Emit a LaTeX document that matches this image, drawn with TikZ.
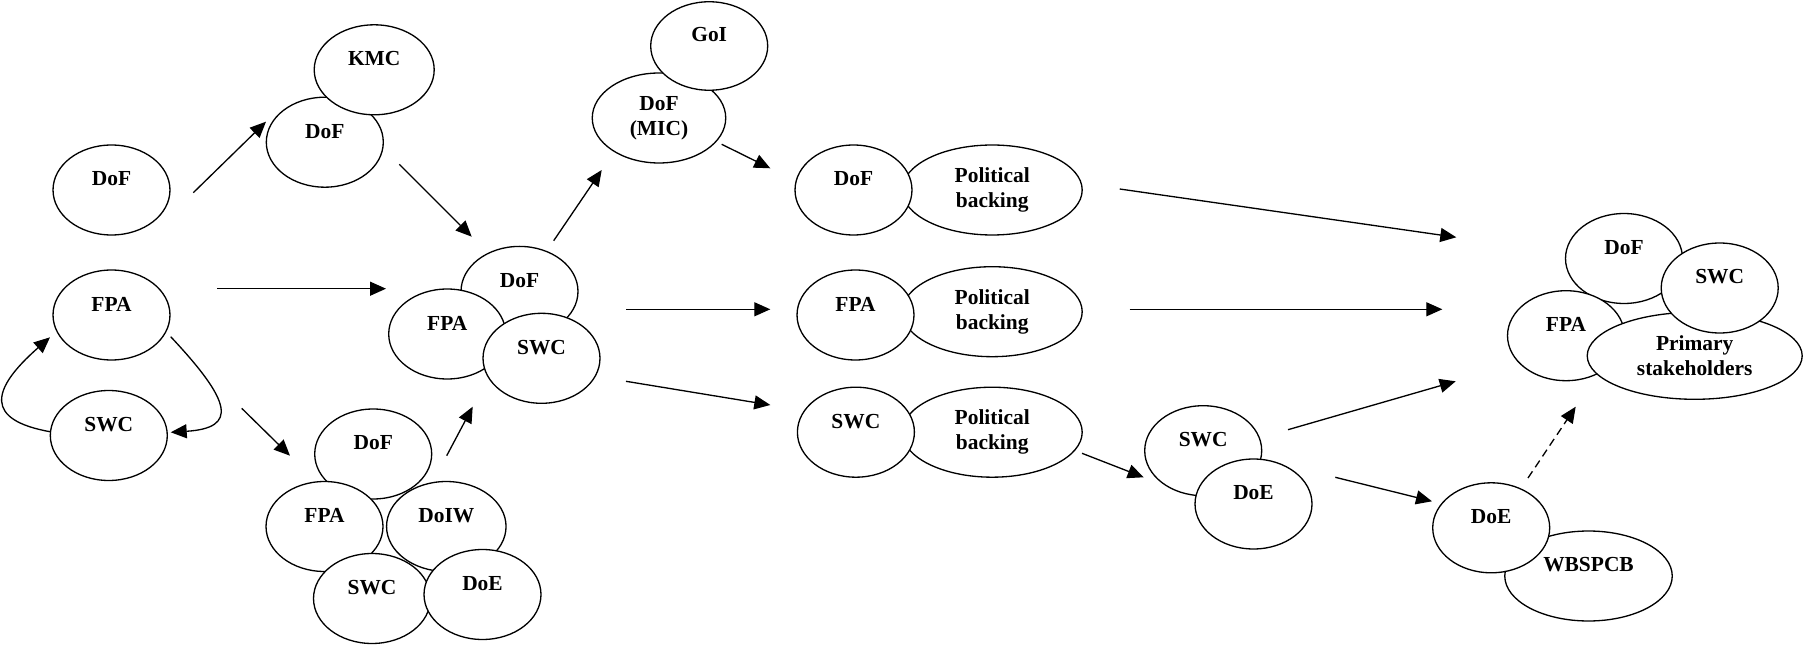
\documentclass[tikz,border=0pt]{standalone}
\usepackage{fontspec}
\setmainfont{Liberation Serif}
\usetikzlibrary{shapes.geometric,arrows.meta}

\tikzset{
	blob/.style={ellipse, draw, fill=white, line width=0.75pt, inner sep=0pt,
		minimum width=2.34cm, minimum height=1.8cm, align=center,
		font=\fontsize{12.2}{14.2}\selectfont\bfseries},
	tag/.style={font=\fontsize{12.2}{14.2}\selectfont\bfseries, yshift=0.22cm, inner sep=0pt},
	arr/.style={line width=0.75pt, -{Triangle[length=0.32cm,width=0.28cm]}},
}

\begin{document}
\begin{tikzpicture}[x=0.02cm, y=-0.02cm]
	\useasboundingbox (0,0) rectangle (1804,648);

	% left column
	\node[blob, label={[tag]center:DoF}] (dofL) at (111.5,190) {};
	\node[blob, label={[tag]center:FPA}] (fpaL) at (111.5,315) {};
	\node[blob, label={[tag]center:SWC}] (swcL) at (108.8,435.5) {};

	% DoF + KMC
	\node[blob, label={[tag]center:DoF}] (dofK) at (324.8,142.2) {};
	\node[blob, minimum width=2.4cm, label={[tag]center:KMC}] (kmc) at (374.2,69.8) {};

	% DoF + FPA + SWC
	\node[blob, label={[tag]center:DoF}] (dofM) at (519.5,291.4) {};
	\node[blob, label={[tag]center:FPA}] (fpaM) at (447.2,334) {};
	\node[blob, label={[tag]center:SWC}] (swcM) at (541.5,358.3) {};

	% five bodies
	\node[blob, label={[tag]center:DoF}] (dofB) at (373.2,454) {};
	\node[blob, label={[tag]center:FPA}] (fpaB) at (324.5,526.5) {};
	\node[blob, minimum width=2.39cm, label={[tag]center:DoIW}] (doiwB) at (446.3,526.5) {};
	\node[blob, label={[tag]center:SWC}] (swcB) at (372,598.5) {};
	\node[blob, label={[tag]center:DoE}] (doeB) at (482.5,594.5) {};

	% DoF (MIC) + GoI
	\node[blob, minimum width=2.67cm] (mic) at (659,118) {DoF\\(MIC)};
	\node[blob, minimum height=1.77cm, label={[tag]center:GoI}] (goi) at (709.2,46) {};

	% political backing rows
	\node[blob, minimum width=3.6cm] (pbA) at (992.2,190) {Political\\backing};
	\node[blob, label={[tag]center:DoF}] (dofA) at (853.5,190) {};
	\node[blob, minimum width=3.6cm] (pbB) at (992.2,311.7) {Political\\backing};
	\node[blob, label={[tag]center:FPA}] (fpaA) at (855.5,315) {};
	\node[blob, minimum width=3.6cm] (pbC) at (992.2,432.2) {Political\\backing};
	\node[blob, label={[tag]center:SWC}] (swcA) at (855.9,432.2) {};

	% SWC + DoE
	\node[blob, label={[tag]center:SWC}] (swcR) at (1203.2,450.7) {};
	\node[blob, label={[tag]center:DoE}] (doeR) at (1253.5,504) {};

	% DoE + WBSPCB
	\node[blob, minimum width=3.35cm, label={[tag]center:WBSPCB}] (wbs) at (1588.5,576) {};
	\node[blob, label={[tag]center:DoE}] (doeW) at (1491.2,527.8) {};

	% final cluster
	\node[blob, label={[tag]center:DoF}] (dofP) at (1624,258.5) {};
	\node[blob, label={[tag]center:FPA}] (fpaP) at (1566,335.7) {};
	\node[blob, minimum width=4.3cm, minimum height=1.74cm] (prim) at (1694.7,355.8) {Primary\\stakeholders};
	\node[blob, label={[tag]center:SWC}] (swcP) at (1719.7,288) {};

	% arrow ends
	\coordinate (e1s) at (193.3,192.7);  \coordinate (e1t) at (266,121.7);
	\coordinate (e2s) at (399.3,164.3);  \coordinate (e2t) at (471.7,236.7);
	\coordinate (e3s) at (217.3,288.7);  \coordinate (e3t) at (386,288.7);
	\coordinate (e4s) at (170.7,336.7);  \coordinate (e4t) at (170.7,432.3);
	\coordinate (e5s) at (50,431.7);     \coordinate (e5t) at (50,337.3);
	\coordinate (e6s) at (241.7,408.3);  \coordinate (e6t) at (290,455.7);
	\coordinate (e7s) at (446.7,455.7);  \coordinate (e7t) at (472.7,406.7);
	\coordinate (e8s) at (553.7,240.7);  \coordinate (e8t) at (601.7,170);
	\coordinate (e9s) at (721.7,144.3);  \coordinate (e9t) at (770.3,168.3);
	\coordinate (e10s) at (626,309.3);   \coordinate (e10t) at (770.3,309.3);
	\coordinate (e11s) at (626,381.3);   \coordinate (e11t) at (770.3,405);
	\coordinate (e12s) at (1119.7,189);  \coordinate (e12t) at (1456.3,237.3);
	\coordinate (e13s) at (1129.7,309.3); \coordinate (e13t) at (1442.3,309.3);
	\coordinate (e14s) at (1082,453.3);  \coordinate (e14t) at (1143.7,477.3);
	\coordinate (e15s) at (1288,429.7);  \coordinate (e15t) at (1455.7,381.3);
	\coordinate (e16s) at (1335.3,477.3); \coordinate (e16t) at (1432,501.3);
	\coordinate (e17s) at (1528,478);    \coordinate (e17t) at (1575.7,406.7);

	\draw[arr] (e1s) -- (e1t);
	\draw[arr] (e2s) -- (e2t);
	\draw[arr] (e3s) -- (e3t);
	\draw[arr] (e4s) .. controls (232,402) and (238,428) .. (e4t);
	\draw[arr] (e5s) .. controls (-15,420) and (-10,390) .. (e5t);
	\draw[arr] (e6s) -- (e6t);
	\draw[arr] (e7s) -- (e7t);
	\draw[arr] (e8s) -- (e8t);
	\draw[arr] (e9s) -- (e9t);
	\draw[arr] (e10s) -- (e10t);
	\draw[arr] (e11s) -- (e11t);
	\draw[arr] (e12s) -- (e12t);
	\draw[arr] (e13s) -- (e13t);
	\draw[arr] (e14s) -- (e14t);
	\draw[arr] (e15s) -- (e15t);
	\draw[arr] (e16s) -- (e16t);
	\draw[arr, dash pattern=on 0.16cm off 0.1cm] (e17s) -- (e17t);
\end{tikzpicture}
\end{document}
